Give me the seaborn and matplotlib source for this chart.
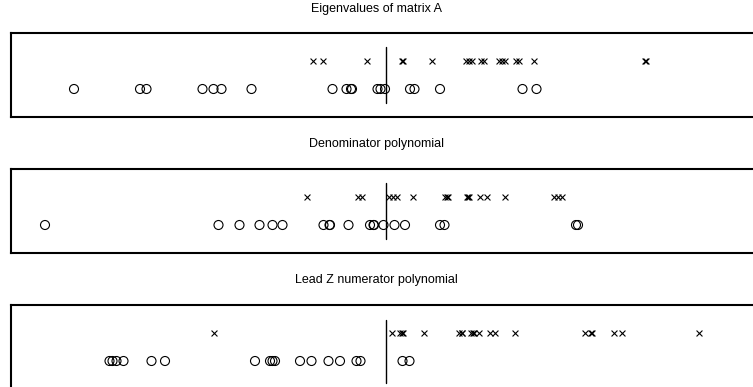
import matplotlib
matplotlib.use("Agg")
import matplotlib.pyplot as plt
import seaborn as sns
import pandas as pd

sns.set_theme(style="white")
plt.rcParams["font.family"] = ["Liberation Sans Narrow", "Liberation Sans", "DejaVu Sans"]

titles = ["Eigenvalues of matrix A", "Denominator polynomial", "Lead Z numerator polynomial"]

# real parts of the roots, one row of crosses and one row of circles per panel
crosses_a = [-1.47, -1.27, -0.39, 0.31, 0.33, 0.92, 1.59, 1.65, 1.71, 1.89, 1.95,
             2.26, 2.31, 2.38, 2.59, 2.65, 2.95, 5.17, 5.19]
circles_a = [-6.24, -4.92, -4.79, -3.67, -3.45, -3.29, -2.69, -1.07, -0.79, -0.70,
             -0.68, -0.17, -0.11, -0.02, 0.48, 0.57, 1.08, 2.73, 3.01]

crosses_b = [-1.59, -0.57, -0.49, 0.05, 0.13, 0.21, 0.53, 1.17, 1.21, 1.23, 1.61,
             1.64, 1.66, 1.88, 2.01, 2.38, 3.35, 3.43, 3.51]
circles_b = [-6.82, -3.35, -2.93, -2.53, -2.27, -2.07, -1.25, -1.13, -1.12, -0.75,
             -0.32, -0.25, -0.24, -0.05, 0.17, 0.38, 1.08, 1.17, 3.80, 3.84]

crosses_c = [-3.45, 0.11, 0.28, 0.32, 0.34, 0.75, 1.45, 1.51, 1.52, 1.69, 1.74,
             1.75, 1.85, 2.08, 2.18, 2.58, 3.98, 4.09, 4.11, 4.55, 4.71, 6.25]
circles_c = [-5.53, -5.47, -5.39, -5.25, -4.69, -4.42, -2.62, -2.32, -2.27, -2.22,
             -1.72, -1.49, -1.15, -0.92, -0.59, -0.51, 0.33, 0.47]

panels = [(crosses_a, circles_a), (crosses_b, circles_b), (crosses_c, circles_c)]

W, H = 753, 387
fig = plt.figure(figsize=(W / 100, H / 100), dpi=100)

# axes boxes in pixels: (left, top, right, bottom)
boxes = [(11, 33, 757, 117), (11, 169, 757, 253), (11, 305, 757, 389)]
title_rows = [9, 144, 280]
vline_spans = [(0.5, 2.5), (0.5, 2.5), (0.2, 2.45)]

for (xs, os_), (l, t, r, b), title, ty, span in zip(panels, boxes, titles,
                                                   title_rows, vline_spans):
    ax = fig.add_axes([l / W, 1 - b / H, (r - l) / W, (b - t) / H])
    dx = pd.DataFrame({"re": xs, "row": 2.0})
    do = pd.DataFrame({"re": os_, "row": 1.0})
    sns.scatterplot(data=dx, x="re", y="row", marker="x", s=18, color="black",
                    linewidth=0.8, ax=ax, legend=False)
    sns.scatterplot(data=do, x="re", y="row", marker="o", s=42, facecolors="none",
                    edgecolors="black", linewidth=0.8, ax=ax, legend=False)
    ax.plot([0, 0], list(span), color="black", linewidth=1)
    ax.set_xlim(-7.5, 7.42)
    ax.set_ylim(0, 3)
    ax.set_xticks([])
    ax.set_yticks([])
    ax.set_xlabel("")
    ax.set_ylabel("")
    for sp in ax.spines.values():
        sp.set_color("black")
        sp.set_linewidth(1.5)
    fig.text(376.5 / W, 1 - ty / H, title, fontsize=9, color="black",
             ha="center", va="center")

fig.savefig("out.png", dpi=100)
